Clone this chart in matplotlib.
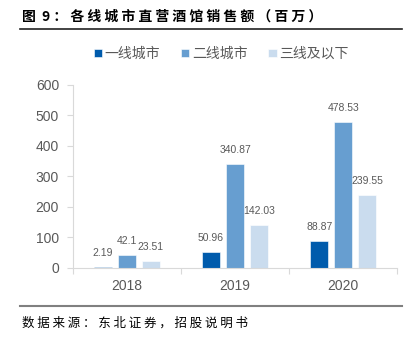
import matplotlib
matplotlib.use('Agg')
import matplotlib.pyplot as plt
import numpy as np

plt.rcParams['font.family'] = ['Liberation Sans', 'Noto Sans CJK SC', 'DejaVu Sans']

years = ['2018', '2019', '2020']
series = ['一线城市', '二线城市', '三线及以下']
tier1 = [2.19, 50.96, 88.87]
tier2 = [42.1, 340.87, 478.53]
tier3 = [23.51, 142.03, 239.55]
colors = ['#005BAC', '#679ED0', '#CADCEE']

title = '图 9：各线城市直营酒馆销售额（百万）'
source = '数据来源：东北证券，招股说明书'

fig = plt.figure(figsize=(4.12, 3.37), dpi=100)
ax = fig.add_axes([0.177, 0.205, 0.787, 0.543])

x = np.arange(len(years))
w = 0.172
step = 0.222
grey = '#595959'
for i, (vals, name) in enumerate(zip([tier1, tier2, tier3], series)):
    pos = x + (i - 1) * step
    ax.bar(pos, vals, w, color=colors[i], edgecolor='white', linewidth=0.4, label=name)
    for px, v in zip(pos, vals):
        ax.annotate(f'{v:g}', (px, v), xytext=(0, 10), textcoords='offset points',
                    ha='center', va='center', fontsize=7.5, color=grey)

ax.set_xlim(-0.5, 2.5)
ax.set_ylim(0, 600)
ax.set_yticks(range(0, 601, 100))
ax.set_xticks(x)
ax.set_xticklabels(years)
ax.set_xticks([-0.5, 0.5, 1.5, 2.5], minor=True)
ax.tick_params(axis='x', which='major', length=0, pad=8, labelsize=10, labelcolor=grey)
ax.tick_params(axis='x', which='minor', length=4, color='#D9D9D9', width=0.8)
ax.tick_params(axis='y', length=4, color='#D9D9D9', width=0.8, labelsize=10, labelcolor=grey, pad=6)
for s in ['top', 'right']:
    ax.spines[s].set_visible(False)
for s in ['left', 'bottom']:
    ax.spines[s].set_color('#D9D9D9')
    ax.spines[s].set_linewidth(0.8)

leg = ax.legend(loc='center', bbox_to_anchor=(0.537, 0.84), bbox_transform=fig.transFigure,
                ncol=3, frameon=False, fontsize=10, handlelength=0.6, handleheight=0.6,
                handletextpad=0.2, columnspacing=1.5, labelcolor=grey)

# spread the characters like the original report typography
fig.text(0.053, 0.95, ' '.join(title.replace('图 9', '图9')).replace('图 9', '图  9'),
         family=['Noto Sans CJK SC'], fontweight='bold', fontsize=10, va='center', ha='left')
fig.add_artist(plt.Line2D([0.049, 0.976], [0.914, 0.914], color='#222222', lw=1.2,
                          transform=fig.transFigure))
fig.add_artist(plt.Line2D([0.049, 0.976], [0.092, 0.092], color='#808080', lw=1.5,
                          transform=fig.transFigure))
fig.text(0.053, 0.042, ' '.join(source), family=['Noto Sans CJK SC'],
         fontsize=9, va='center', ha='left')

fig.savefig('out.png', dpi=100)
